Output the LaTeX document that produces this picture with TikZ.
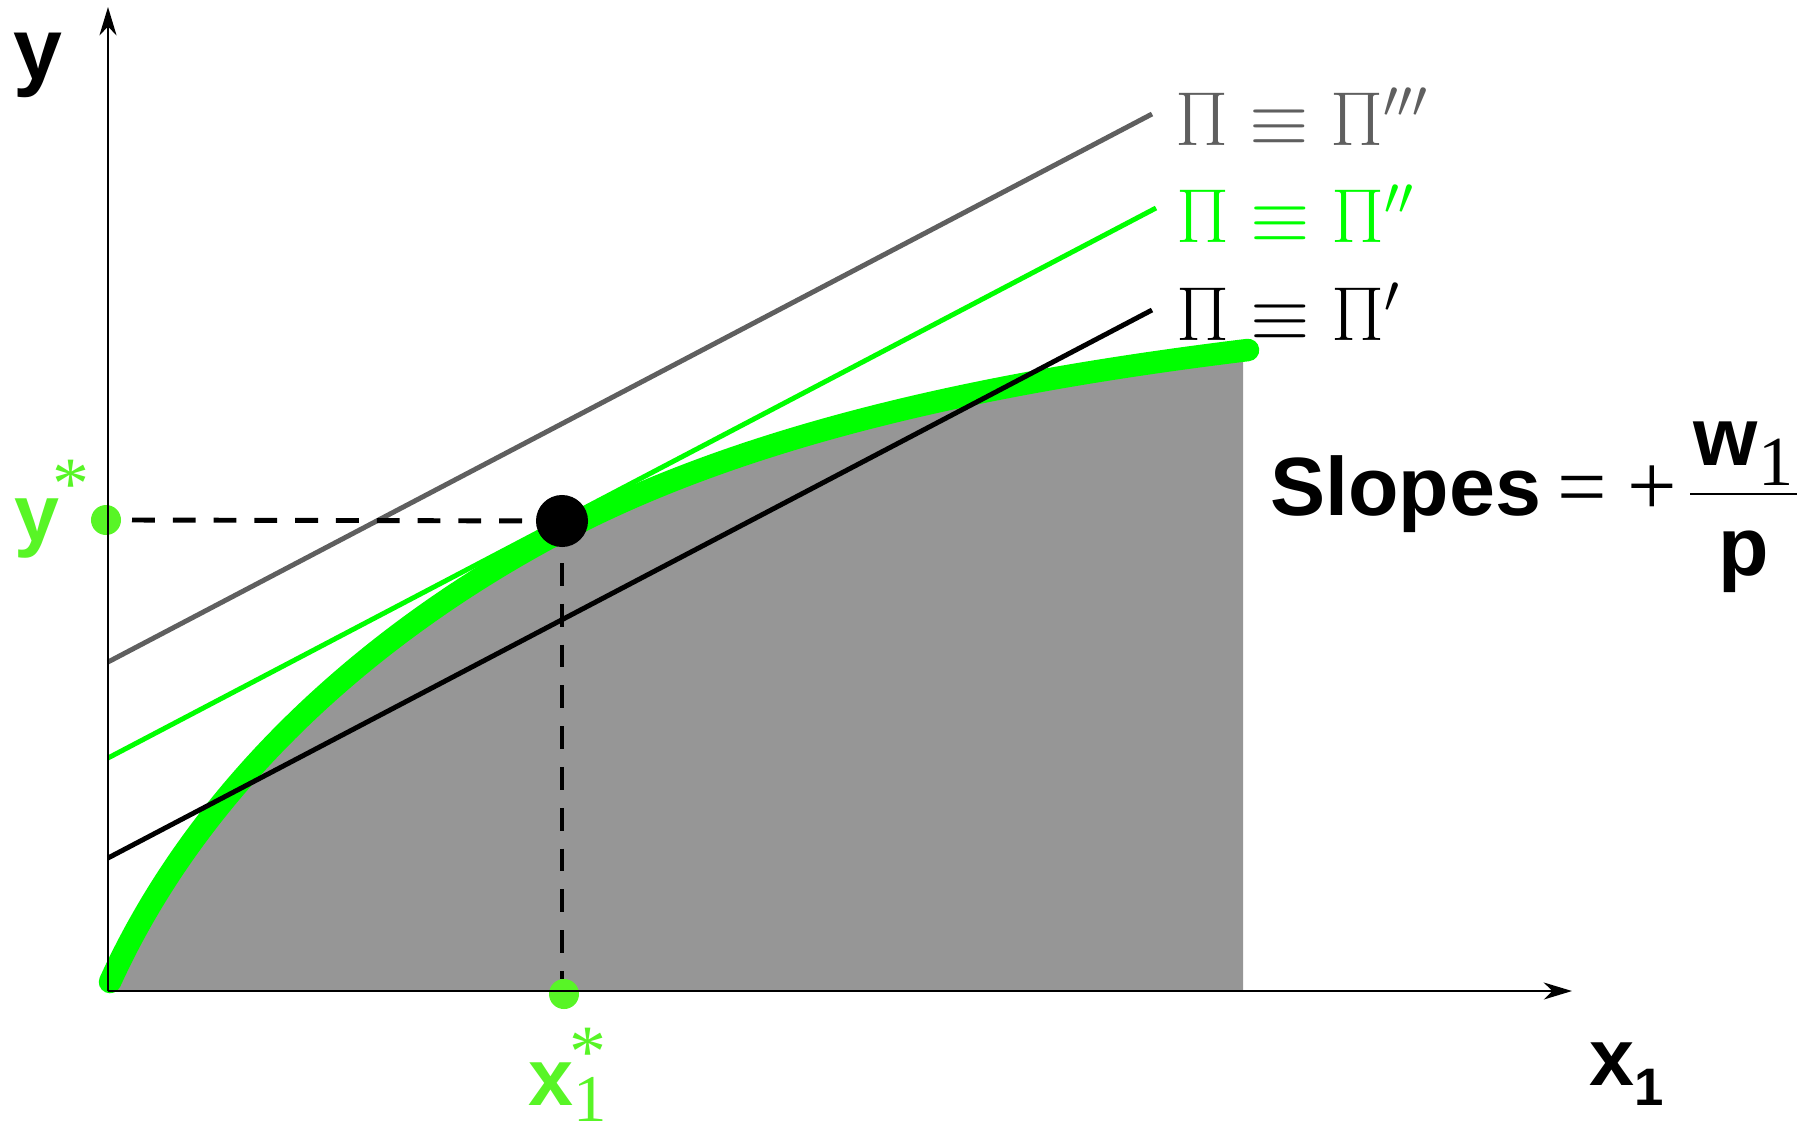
\documentclass[tikz,border=0pt]{standalone}
\usepackage{fontspec}
\setsansfont{Liberation Sans}
\newfontfamily\timesf{Liberation Serif}
\usetikzlibrary{arrows.meta}
\definecolor{pgreen}{RGB}{0,255,0}
\definecolor{lgreen}{RGB}{88,245,38}
\definecolor{dgrey}{RGB}{95,95,95}
\definecolor{fgrey}{RGB}{150,150,150}
\newcommand{\fsz}[1]{\fontsize{#1}{#1}\selectfont}
\begin{document}
\begin{tikzpicture}[x=0.01cm,y=-0.01cm,
  txt/.style={inner sep=0pt,outer sep=0pt},
  sfb/.style={txt,font=\fsz{#1}\sffamily\bfseries},
  ser/.style={txt,font=\fsz{#1}\timesf},
  pilabel/.style={txt,anchor=base west,scale=1.05,font=\fsz{20.74}},
  axisline/.style={line width=0.8pt,-{Stealth[length=8pt,width=4.8pt,inset=2.4pt]}},
  profit/.style={line width=1.4pt},
  guide/.style={line width=1.4pt,dash pattern=on 6.5pt off 5.1pt},
  dotnode/.style={circle,inner sep=0pt,outer sep=0pt,minimum size=#1}
  ]
\useasboundingbox (0,0) rectangle (1813,1124);
% production set
\coordinate (c0) at (110,982);
\coordinate (c1) at (562,531);
\coordinate (c2) at (1248,350);
\fill[fgrey] (108,991) -- (c0) .. controls (200,784) and (372,631) .. (c1)
  .. controls (762,426) and (1018,378) .. (c2) -- (1243,351) -- (1243,991) -- cycle;
\draw[pgreen,line width=6.4pt,line cap=round] (c0) .. controls (200,784) and (372,631) .. (c1)
  .. controls (762,426) and (1018,378) .. (c2);
% iso-profit lines
\coordinate (g0) at (108,662); \coordinate (g1) at (1152,114);
\coordinate (t0) at (108,758); \coordinate (t1) at (1156,208);
\coordinate (b0) at (108,858); \coordinate (b1) at (1152,310);
\draw[profit,dgrey] (g0) -- (g1);
\draw[profit,pgreen] (t0) -- (t1);
\draw[profit,black] (b0) -- (b1);
% optimum and guides
\node[dotnode=0.3cm,fill=lgreen] (ydot) at (106,520) {};
\node[dotnode=0.3cm,fill=lgreen] (xdot) at (564,994) {};
\coordinate (hs) at (132,520);
\coordinate (vs) at (562,563);
\coordinate (ve) at (562,979);
\node[dotnode=0.52cm,fill=black] (opt) at (562,521) {};
\draw[guide] (hs) -- (opt);
\draw[guide] (vs) -- (ve);
% axes
\coordinate (O) at (108,991);
\coordinate (ytip) at (108,7);
\coordinate (xtip) at (1572,991);
\draw[axisline] (O) -- (ytip);
\draw[axisline] (O) -- (xtip);
% axis labels
\node[sfb=25,anchor=base] (ylab) at (38,79) {y};
\node[sfb=23,anchor=base] (xlab) at (1612,1085) {x};
\node[sfb=15,anchor=base] (xlabsub) at (1649,1105) {1};
% starred labels
\node[sfb=23,anchor=base,text=lgreen] (ystar) at (37,541) {y};
\node[ser=21,anchor=north,text=lgreen] (ystarast) at (71,460) {*};
\node[sfb=23,anchor=base,text=lgreen] (xstar) at (551,1105) {x};
\node[ser=19,anchor=base,text=lgreen] (xstarsub) at (590,1121) {1};
\node[ser=21,anchor=north,text=lgreen] (xstarast) at (588,1028) {*};
% profit labels
\node[pilabel,text=dgrey] (pi3) at (1175,145) {$\Pi\equiv\Pi'''$};
\node[pilabel,text=pgreen] (pi2) at (1176,242) {$\Pi\equiv\Pi''$};
\node[pilabel,text=black] (pi1) at (1176,340) {$\Pi\equiv\Pi'$};
% slopes label
\node[sfb=23.5,anchor=base west] (slopes) at (1270,515) {Slopes};
\node[ser=25,anchor=base] (eq) at (1582.5,516) {=};
\node[ser=25,anchor=base] (plus) at (1652.5,515) {+};
\coordinate (barl) at (1690,494); \coordinate (barr) at (1797,494);
\draw[line width=0.6pt] (barl) -- (barr);
\node[sfb=23.5,anchor=base] (wnum) at (1726,465) {w};
\node[ser=20,anchor=base] (wsub) at (1776,485) {1};
\node[sfb=23.5,anchor=base] (pden) at (1744,575) {p};
\end{tikzpicture}
\end{document}
